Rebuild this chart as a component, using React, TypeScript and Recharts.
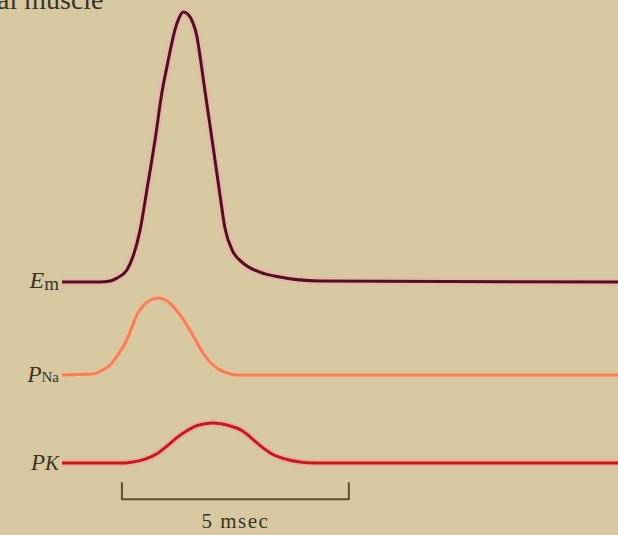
import { LineChart, Line, XAxis, YAxis, ReferenceDot, ReferenceLine } from 'recharts';

// time in msec, membrane potential in mV
const emTime = [0, 0.84, 1.06, 1.21, 1.43, 1.56, 1.72, 1.87, 2.05, 2.2, 2.31, 2.42, 2.49, 2.58, 2.67, 2.78, 2.89, 2.97, 3.04, 3.15, 3.33, 3.48, 3.59, 3.75, 3.99, 4.36, 4.8, 5.68, 12.25];
const emValues = [-90, -90, -89.5, -88.1, -84.2, -78, -65, -45.7, -21.6, 1, 13.5, 25.1, 31.5, 37.2, 40, 38.8, 34.5, 28.5, 19, 2, -25, -48, -64, -74.6, -80.9, -85.2, -87.6, -89.5, -90];

// relative permeabilities (same units for Na and K)
const naTime = [0, 0.68, 0.9, 1.06, 1.23, 1.43, 1.54, 1.65, 1.79, 1.94, 2.12, 2.29, 2.45, 2.6, 2.75, 2.91, 3.04, 3.19, 3.33, 3.48, 3.64, 3.86, 12.25];
const naValues = [0, 0.013, 0.065, 0.13, 0.26, 0.46, 0.62, 0.78, 0.9, 0.97, 1.0, 0.97, 0.89, 0.78, 0.65, 0.49, 0.35, 0.22, 0.13, 0.065, 0.026, 0, 0];

const kTime = [0, 1.39, 1.56, 1.83, 2.09, 2.31, 2.53, 2.75, 2.97, 3.15, 3.33, 3.5, 3.77, 3.97, 4.14, 4.38, 4.65, 4.96, 5.24, 5.57, 12.25];
const kValues = [0, 0, 0.013, 0.05, 0.12, 0.22, 0.33, 0.42, 0.485, 0.51, 0.52, 0.51, 0.47, 0.42, 0.34, 0.22, 0.11, 0.045, 0.013, 0, 0];

const scaleBarStart = 1.32;
const scaleBarLength = 5;

const toRows = (ts: number[], vs: number[]) => ts.map((t, i) => ({ t, v: vs[i], glow: vs[i] }));
const emData = toRows(emTime, emValues);
const naData = toRows(naTime, naValues);
const kData = toRows(kTime, kValues);

const ink = '#3b3322';
const serif = '"Liberation Serif", "DejaVu Serif", serif';

function TraceLabel(props: any) {
  const { viewBox, main, mainSize, sub, subSize, subDy, subItalic, dy } = props;
  return (
    <text x={viewBox.x - 3} y={viewBox.y + dy} textAnchor="end" fontFamily={serif} fill={ink}>
      <tspan fontSize={mainSize} fontStyle="italic">{main}</tspan>
      <tspan fontSize={subSize} dy={subDy} fontStyle={subItalic ? 'italic' : 'normal'}>{sub}</tspan>
    </text>
  );
}

function BarLabel(props: any) {
  const { viewBox } = props;
  return (
    <text x={viewBox.x + viewBox.width / 2} y={viewBox.y + 29} textAnchor="middle" fontFamily={serif} fontSize={21} letterSpacing={1.5} fill={ink}>
      5 msec
    </text>
  );
}

const lineProps = { type: 'monotone' as const, dot: false, isAnimationActive: false };

export default function App() {
  return (
    <div style={{ position: 'absolute', left: 0, top: 0, width: 618, height: 535, background: '#d8c8a2', overflow: 'hidden' }}>
      <div style={{ position: 'absolute', left: -3, top: -16, fontFamily: serif, fontSize: 28, color: ink, whiteSpace: 'nowrap' }}>
        al muscle
      </div>
      <LineChart width={618} height={535} margin={{ top: 0, right: 0, bottom: 0, left: 62 }}>
        <XAxis dataKey="t" type="number" domain={[0, 12.25]} allowDataOverflow hide />
        <YAxis yAxisId="em" type="number" domain={[-211.8, 45.8]} allowDataOverflow hide />
        <YAxis yAxisId="na" type="number" domain={[-2.078, 4.87]} allowDataOverflow hide />
        <YAxis yAxisId="k" type="number" domain={[-0.935, 6.013]} allowDataOverflow hide />

        <Line yAxisId="em" data={emData} dataKey="glow" stroke="#eeb0b0" strokeWidth={8} strokeOpacity={0.8} {...lineProps} />
        <Line yAxisId="em" data={emData} dataKey="v" stroke="#4a1518" strokeWidth={3} {...lineProps} />

        <Line yAxisId="na" data={naData} dataKey="glow" stroke="#f4bc98" strokeWidth={7} strokeOpacity={0.8} {...lineProps} />
        <Line yAxisId="na" data={naData} dataKey="v" stroke="#e8845a" strokeWidth={3} {...lineProps} />

        <Line yAxisId="k" data={kData} dataKey="glow" stroke="#f2a89c" strokeWidth={7} strokeOpacity={0.8} {...lineProps} />
        <Line yAxisId="k" data={kData} dataKey="v" stroke="#bb1f1d" strokeWidth={3} {...lineProps} />

        <ReferenceDot yAxisId="em" x={0} y={emValues[0]} r={0} fill="none" stroke="none"
          label={<TraceLabel main="E" mainSize={24} sub="m" subSize={19} subDy={2} dy={6} />} />
        <ReferenceDot yAxisId="na" x={0} y={naValues[0]} r={0} fill="none" stroke="none"
          label={<TraceLabel main="P" mainSize={23} sub="Na" subSize={15} subDy={0} dy={7} />} />
        <ReferenceDot yAxisId="k" x={0} y={kValues[0]} r={0} fill="none" stroke="none"
          label={<TraceLabel main="P" mainSize={23} sub="K" subSize={21} subDy={0} dy={7} subItalic />} />

        <ReferenceLine yAxisId="k" segment={[{ x: scaleBarStart, y: -0.47 }, { x: scaleBarStart + scaleBarLength, y: -0.47 }]}
          stroke="#5e4f2e" strokeWidth={2} label={<BarLabel />} />
        <ReferenceLine yAxisId="k" segment={[{ x: scaleBarStart, y: -0.25 }, { x: scaleBarStart, y: -0.48 }]} stroke="#5e4f2e" strokeWidth={2} />
        <ReferenceLine yAxisId="k" segment={[{ x: scaleBarStart + scaleBarLength, y: -0.25 }, { x: scaleBarStart + scaleBarLength, y: -0.48 }]} stroke="#5e4f2e" strokeWidth={2} />
      </LineChart>
    </div>
  );
}
